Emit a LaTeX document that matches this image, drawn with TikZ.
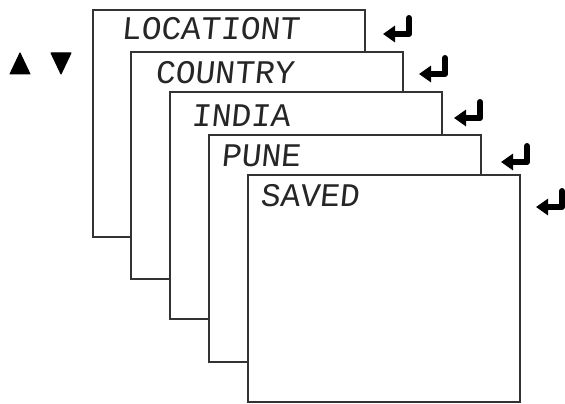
\documentclass[tikz,border=0pt]{standalone}
\usepackage{fontspec}
\newfontfamily\lcdfont[FakeSlant=0.1]{Liberation Mono}
\usetikzlibrary{arrows.meta}
\tikzset{
  x=1pt, y=-1pt,
  panel/.style={draw=black!80, line width=1.2pt, fill=white, anchor=north west,
    minimum width=272pt, minimum height=227pt, inner sep=0pt, outer sep=0pt},
  lcd/.style={anchor=base west, inner sep=0pt, outer sep=0pt, text=black!85,
    font=\lcdfont\fontsize{33}{33}\selectfont},
  enterkey/.pic={
    \draw[line width=6pt, line join=round, line cap=round, black,
      -{Triangle[length=12pt,width=16pt]}]
      (-3,3) -- (-3,19) -- (-29,19);
  },
  navtri/.style={fill=black, draw=black, line width=1pt, line join=round}
}
\begin{document}
\begin{tikzpicture}
\useasboundingbox (0,0) rectangle (565,404);
% panels
\node[panel] (p1) at (93,10) {};
\node[panel] (p2) at (131,52) {};
\node[panel] (p3) at (170,92) {};
\node[panel] (p4) at (209,135) {};
\node[panel] (p5) at (248,175) {};
% texts
\node[lcd] (t1) at (121,40) {LOCATIONT};
\node[lcd] (t2) at (155,84) {COUNTRY};
\node[lcd] (t3) at (191,126) {INDIA};
\node[lcd] (t4) at (221,166) {PUNE};
\node[lcd] (t5) at (260,206) {SAVED};
% enter keys
\pic at (412,15) {enterkey};
\pic at (448,55) {enterkey};
\pic at (483,99) {enterkey};
\pic at (530,143) {enterkey};
\pic at (565,188) {enterkey};
% up / down triangles
\path[navtri] (10,74) -- (30,74) -- (20,53) -- cycle;
\path[navtri] (51,53) -- (71,53) -- (61,74) -- cycle;
\end{tikzpicture}
\end{document}
